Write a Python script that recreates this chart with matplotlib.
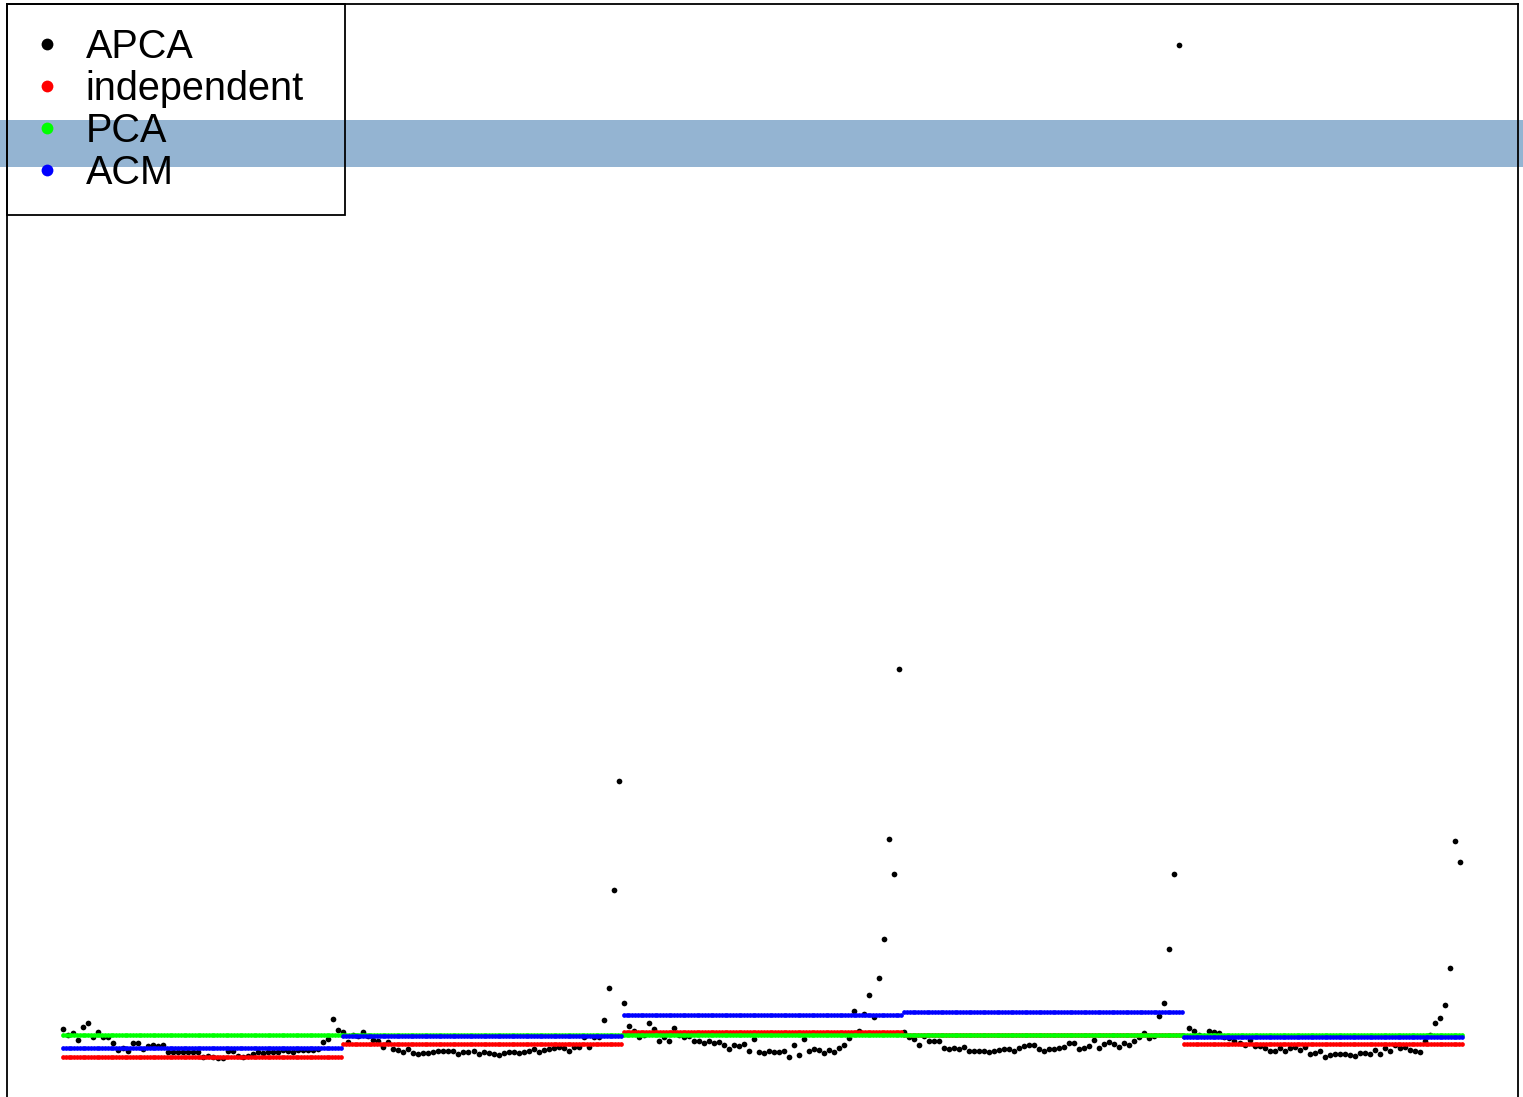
import numpy as np
import matplotlib
matplotlib.use("Agg")
import matplotlib.pyplot as plt
from matplotlib.patches import Rectangle
from matplotlib.lines import Line2D

# ---------------- data ----------------
labels = ["APCA", "independent", "PCA", "ACM"]
colors = ["black", "red", "#00ff00", "blue"]

# APCA estimates (5 regimes x 56 points)
apca_seg1 = [0.6, 0.0, 0.2, -0.5, 0.8, 1.2, -0.2, 0.3, -0.2, -0.2,
             -0.8, -1.5, -1.3, -1.6, -0.8, -0.8, -1.4, -1.1, -1.0, -1.1,
             -1.0, -1.7, -1.7, -1.7, -1.7, -1.7, -1.7, -1.7, -2.2, -2.1,
             -2.2, -2.3, -2.3, -1.6, -1.6, -2.1, -2.2, -2.1, -1.9, -1.7,
             -1.8, -1.7, -1.7, -1.7, -1.5, -1.6, -1.7, -1.5, -1.5, -1.5,
             -1.5, -1.4, -0.7, -0.4, 1.6, 0.5]
apca_seg2 = [0.3, -0.7, 0.0, -0.1, 0.3, -0.1, -0.5, -0.6, -1.2, -0.7,
             -1.4, -1.5, -1.7, -1.4, -1.8, -1.9, -1.8, -1.8, -1.7, -1.6,
             -1.6, -1.6, -1.6, -1.9, -1.7, -1.7, -1.6, -1.9, -1.7, -1.8,
             -1.9, -2.0, -1.8, -1.7, -1.7, -1.8, -1.7, -1.6, -1.4, -1.7,
             -1.5, -1.4, -1.3, -1.2, -1.3, -1.6, -1.2, -1.2, -0.2, -1.2,
             -0.2, -0.2, 1.5, 4.8, 14.6, 25.5]
apca_seg3 = [3.3, 0.9, 0.4, -0.2, 0.0, 1.2, 0.6, -0.6, -0.2, -0.6,
             0.7, 0.0, -0.2, -0.1, -0.6, -0.6, -0.8, -0.6, -0.8, -0.7,
             -1.0, -1.4, -1.0, -1.1, -0.9, -1.6, -0.4, -1.7, -1.8, -1.6,
             -1.7, -1.7, -1.6, -2.2, -1.0, -2.0, -0.4, -1.6, -1.4, -1.5,
             -1.8, -1.5, -1.7, -1.3, -1.0, -0.3, 2.4, 0.4, 2.1, 4.1,
             1.8, 5.8, 9.7, 19.7, 16.2, 36.7]
apca_seg4 = [0.3, -0.2, -0.4, -1.0, -0.1, -0.6, -0.6, -0.6, -1.3, -1.4,
             -1.3, -1.4, -1.2, -1.6, -1.6, -1.6, -1.6, -1.7, -1.6, -1.5,
             -1.4, -1.4, -1.6, -1.3, -1.1, -1.0, -1.0, -1.4, -1.6, -1.4,
             -1.4, -1.3, -1.2, -0.8, -0.8, -1.4, -1.3, -1.1, -0.5, -1.3,
             -0.9, -0.7, -0.9, -1.2, -0.8, -1.0, -0.6, -0.2, 0.2, -0.3,
             -0.1, 1.9, 3.3, 8.7, 16.2, 99.2]
apca_seg5 = [-0.1, 0.7, 0.4, 0.0, -0.1, 0.4, 0.3, 0.2, -0.2, -0.3,
             -0.6, -0.8, -1.0, -0.5, -1.1, -1.1, -1.3, -1.6, -1.6, -1.3,
             -1.6, -1.3, -1.2, -1.5, -1.2, -1.9, -1.8, -1.6, -2.2, -2.0,
             -1.9, -1.9, -1.9, -2.0, -2.1, -1.8, -1.8, -1.9, -1.5, -1.9,
             -1.3, -1.6, -1.0, -1.3, -1.2, -1.5, -1.6, -1.7, -0.6, 0.0,
             1.2, 1.7, 3.1, 6.8, 19.5, 17.4]

# piecewise-constant estimates per regime
independent_levels = [-2.13, -0.90, 0.37, 0.05, -0.90]
pca_levels = [0.0, 0.0, 0.0, 0.0, 0.03]
acm_levels = [-1.27, -0.10, 2.00, 2.37, -0.17]
n_per_regime = 100

# ---------------- build ----------------
apca = np.array(apca_seg1 + apca_seg2 + apca_seg3 + apca_seg4 + apca_seg5)
indep = np.repeat(independent_levels, n_per_regime)
pca = np.repeat(pca_levels, n_per_regime)
acm = np.repeat(acm_levels, n_per_regime)
N = len(indep)
x_lines = np.arange(1, N + 1)
x_apca = np.linspace(1, 499.2, len(apca))

W, H = 1523, 1097
fig = plt.figure(figsize=(W / 100, H / 100), dpi=100, facecolor="white")
ax = fig.add_axes([7 / W, -2 / H, 1511 / W, (1093 + 2) / H])
ax.set_facecolor("none")

# horizontal highlight band across the figure
band = Rectangle((0, 1 - 167 / H), 1, 47 / H, transform=fig.transFigure,
                 facecolor="#94b4d2", edgecolor="none", zorder=-1)
fig.patches.append(band)

ms_black = 4.1
ms_col = 3.4
ax.plot(x_apca, apca, "o", color=colors[0], ms=ms_black, mew=0, zorder=2)
ax.plot(x_lines, indep, "o", color=colors[1], ms=ms_col, mew=0, zorder=3)
ax.plot(x_lines, pca, "o", color=colors[2], ms=ms_col, mew=0, zorder=4)
ax.plot(x_lines, acm, "o", color=colors[3], ms=ms_col, mew=0, zorder=5)

allv = np.concatenate([apca, indep, pca, acm])
lo, hi = allv.min(), allv.max()
r = hi - lo
ax.set_ylim(lo - 0.04 * r, hi + 0.04 * r)
ax.set_xlim(1 - 0.04 * (N - 1), N + 0.04 * (N - 1))
ax.set_xticks([])
ax.set_yticks([])
for s in ax.spines.values():
    s.set_linewidth(1.3)
    s.set_color("black")

handles = [Line2D([], [], ls="", marker="o", ms=8.5, mew=0, color=c) for c in colors]
leg = ax.legend(handles, labels, loc="upper left",
                bbox_to_anchor=(0, 1, 338 / 1511, 0),
                mode="expand", borderaxespad=0,
                prop={"family": "Liberation Sans", "size": 28.5},
                handlelength=0.8, handletextpad=0.59,
                borderpad=0.6, labelspacing=0.1, fancybox=False,
                frameon=True, framealpha=1)
fr = leg.get_frame()
fr.set_facecolor("none")
fr.set_edgecolor("black")
fr.set_linewidth(1.3)

fig.savefig("out.png", dpi=100, facecolor="white")
